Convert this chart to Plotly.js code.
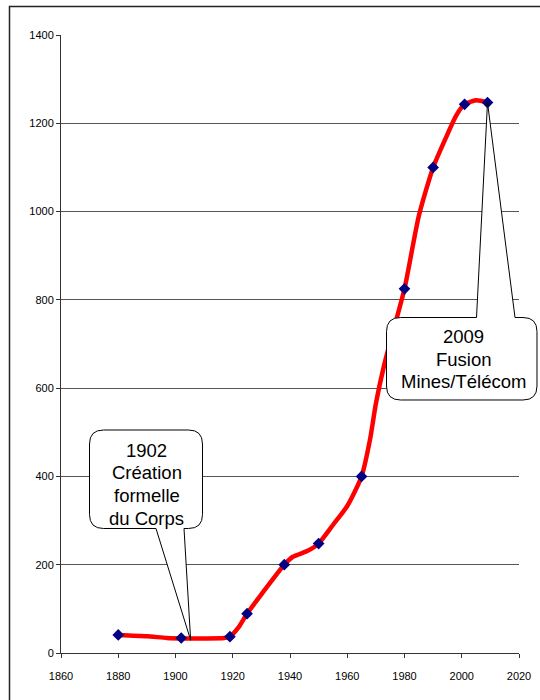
<!DOCTYPE html>
<html><head><meta charset="utf-8">
<script src="https://cdn.plot.ly/plotly-3.0.1.min.js"></script>
<style>html,body{margin:0;padding:0;background:#fff}#chart{width:540px;height:700px}</style>
</head><body><div id="chart"></div>
<script>
// Red curve (including bends between markers)
const lineYears  = [1880, 1890, 1897, 1902, 1910, 1917, 1919, 1922, 1925, 1930, 1938, 1941, 1946, 1950, 1955, 1960, 1965, 1968, 1970, 1973, 1976, 1980, 1985, 1990, 1995, 1998, 2001, 2005, 2009];
const lineValues = [41,   38,   34,   33,   33,   34,   37,   58,   89,   133,  200,  218,  231,  248,  290,  333,  400,  485,  565,  655,  728,  825,  990,  1100, 1175, 1217, 1243, 1252, 1247];
// Diamond markers
const markerYears  = [1880, 1902, 1919, 1925, 1938, 1950, 1965, 1980, 1990, 2001, 2009];
const markerValues = [41,   34,   37,   89,   200,  248,  400,  825,  1100, 1243, 1247];
// Axes
const xTickVals = [1860, 1880, 1900, 1920, 1940, 1960, 1980, 2000, 2020];
const yTickVals = [0, 200, 400, 600, 800, 1000, 1200, 1400];
// Callout texts
const callout1Lines = ["1902", "Création", "formelle", "du Corps"];
const callout2Lines = ["2009", "Fusion", "Mines/Télécom"];

const W = 540, H = 700, M = {l: 61, r: 21, t: 35, b: 47};
const PW = W - M.l - M.r, PH = H - M.t - M.b;
const px = p => (p - M.l) / PW;
const py = p => (H - M.b - p) / PH;
const P = (x, y) => px(x).toFixed(5) + ',' + py(y).toFixed(5);
// data -> pixel (for pointer tips)
const dx = yr => M.l + (yr - 1860) / 160 * PW;
const dy = v => H - M.b - v / 1400 * PH;

function calloutPath(b, ptr) {
  const {L, R, T, B, r} = b;
  let d = 'M' + P(L + r, T);
  if (ptr.side === 'top') d += ' L' + P(ptr.a, T) + ' L' + P(ptr.tx, ptr.ty) + ' L' + P(ptr.b, T);
  d += ' L' + P(R - r, T) + ' Q' + P(R, T) + ' ' + P(R, T + r);
  d += ' L' + P(R, B - r) + ' Q' + P(R, B) + ' ' + P(R - r, B);
  if (ptr.side === 'bottom') d += ' L' + P(ptr.b, B) + ' L' + P(ptr.tx, ptr.ty) + ' L' + P(ptr.a, B);
  d += ' L' + P(L + r, B) + ' Q' + P(L, B) + ' ' + P(L, B - r);
  d += ' L' + P(L, T + r) + ' Q' + P(L, T) + ' ' + P(L + r, T) + ' Z';
  return d;
}

const tip2 = {x: dx(markerYears[10]), y: dy(markerValues[10])};
const shapes = [
  {type: 'rect', xref: 'paper', yref: 'paper', x0: px(9.5), y0: py(6.5), x1: px(560), y1: py(720),
   line: {color: '#222', width: 1.5}, fillcolor: 'rgba(0,0,0,0)', layer: 'below'},
  {type: 'path', xref: 'paper', yref: 'paper', layer: 'above',
   path: calloutPath({L: 89.5, R: 202.5, T: 430, B: 528.5, r: 14},
                     {side: 'bottom', a: 156, b: 184, tx: dx(1905.3), ty: dy(29)}),
   line: {color: '#000', width: 1}, fillcolor: '#fff'},
  {type: 'path', xref: 'paper', yref: 'paper', layer: 'above',
   path: calloutPath({L: 386.5, R: 537, T: 317.5, B: 400, r: 14},
                     {side: 'top', a: 476.5, b: 515, tx: tip2.x, ty: tip2.y}),
   line: {color: '#000', width: 1}, fillcolor: '#fff'}
];

const textFont = {family: 'Liberation Sans, Arial, sans-serif', size: 18.5, color: '#000'};
const annotations = [];
callout1Lines.forEach((t, i) => annotations.push({xref: 'paper', yref: 'paper', x: px(146.5), y: py(450 + i * 22.8),
  text: t, showarrow: false, xanchor: 'center', yanchor: 'middle', font: textFont}));
callout2Lines.forEach((t, i) => annotations.push({xref: 'paper', yref: 'paper', x: px(463.7), y: py(336.7 + i * 22.5),
  text: t, showarrow: false, xanchor: 'center', yanchor: 'middle', font: textFont}));

const traces = [
  {x: lineYears, y: lineValues, type: 'scatter', mode: 'lines',
   line: {color: '#ff0000', width: 4.5, shape: 'spline', smoothing: 0.6}, hoverinfo: 'skip'},
  {x: markerYears, y: markerValues, type: 'scatter', mode: 'markers',
   marker: {symbol: 'diamond', size: 9, color: '#000080'}}
];

const tickFont = {family: 'Liberation Sans, Arial, sans-serif', size: 11, color: '#000'};
const layout = {
  width: W, height: H, margin: M, showlegend: false,
  paper_bgcolor: '#fff', plot_bgcolor: '#fff',
  xaxis: {range: [1860, 2020], tickvals: xTickVals, ticktext: xTickVals.map(String),
          ticks: 'outside', ticklen: 4, tickcolor: '#333', showline: true, linecolor: '#333', linewidth: 1,
          showgrid: false, zeroline: false, tickfont: tickFont, fixedrange: true, ticklabelstandoff: 9},
  yaxis: {range: [0, 1400], tickvals: yTickVals, ticktext: yTickVals.map(String),
          ticks: 'outside', ticklen: 4, tickcolor: '#333', showline: true, linecolor: '#333', linewidth: 1,
          showgrid: true, gridcolor: '#555', gridwidth: 1, zeroline: false, tickfont: tickFont, fixedrange: true},
  shapes: shapes, annotations: annotations
};
Plotly.newPlot('chart', traces, layout, {displayModeBar: false, staticPlot: true});
</script></body></html>
